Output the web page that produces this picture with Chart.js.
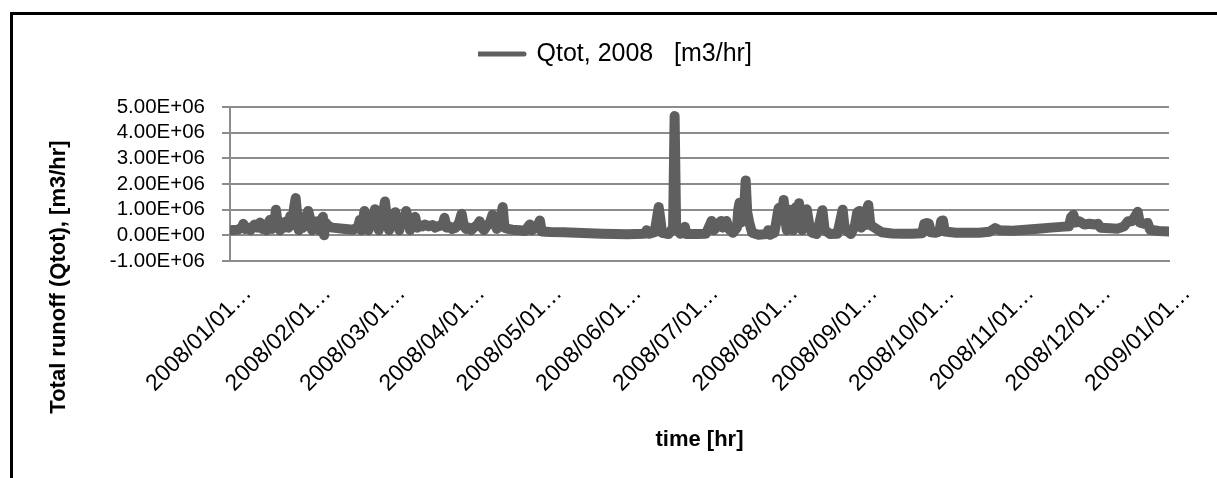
<!DOCTYPE html>
<html><head><meta charset="utf-8">
<script src="https://cdn.jsdelivr.net/npm/chart.js@4.4.1/dist/chart.umd.min.js"></script>
<style>
html,body{margin:0;padding:0;background:#fff;overflow:hidden;width:1217px;height:478px;}
#frame{position:absolute;left:10px;top:12px;width:1400px;height:700px;border:3px solid #000;box-sizing:border-box;}
#wrap{position:absolute;left:0;top:0;width:1217px;height:478px;}
</style></head><body>
<div id="frame"></div>
<div id="wrap"><canvas id="c" width="1217" height="478"></canvas></div>
<script>
// ---- data ----
const seriesName = 'Qtot, 2008   [m3/hr]';
const xTitleText = 'time [hr]';
const yTitleText = 'Total runoff (Qtot), [m3/hr]';

// x tick positions (day of year 2008) and their labels
const monthStartDays = [0, 31, 60, 91, 121, 152, 182, 213, 244, 274, 305, 335, 366];
const monthLabels = ['2008/01/01…', '2008/02/01…', '2008/03/01…', '2008/04/01…', '2008/05/01…', '2008/06/01…',
  '2008/07/01…', '2008/08/01…', '2008/09/01…', '2008/10/01…', '2008/11/01…', '2008/12/01…', '2009/01/01…'];

// y ticks
const yTickValues = [-1000000, 0, 1000000, 2000000, 3000000, 4000000, 5000000];
const yTickLabels = ['-1.00E+06', '0.00E+00', '1.00E+06', '2.00E+06', '3.00E+06', '4.00E+06', '5.00E+06'];

// series: time (day of year 2008) and total runoff [m3/hr]
const dayOfYear = [
  0, 3, 4.6, 5.2, 5.8, 7, 8, 9.5, 10.5, 11.7,
  12.6, 13.5, 14.2, 15, 15.6, 16.4, 17.4, 17.9, 18.5, 19.5,
  20.3, 21.2, 22, 22.8, 23.5, 24.3, 25, 25.6, 26.2, 26.8,
  27.5, 28.5, 29.5, 30.5, 31.3, 32, 32.6, 33.4, 34, 34.8,
  35.3, 36.2, 36.7, 37.2, 38.5, 40, 44, 48, 49.8, 50.6,
  51.2, 51.8, 52.4, 53.2, 54, 55, 55.8, 56.5, 57.3, 58,
  58.8, 59.6, 60.4, 61.2, 62, 62.8, 63.6, 64.4, 65.2, 66,
  66.8, 67.6, 68.7, 69.5, 70.2, 71, 71.6, 72.2, 73, 74,
  75, 76, 77.5, 79, 80, 81, 82.8, 83.6, 84.4, 85.5,
  86.5, 88, 89.3, 90.3, 91.2, 92, 93, 94, 95, 96.4,
  97.3, 98.2, 99, 100, 101.3, 102.3, 103.2, 104, 105.2, 106.3,
  107, 108.5, 110, 113, 115, 116.3, 116.9, 117.6, 119.5, 120.8,
  121.5, 125, 130, 135, 140, 145, 150, 155, 158, 161.5,
  162.4, 163.2, 165.5, 166.3, 167.1, 167.8, 168.4, 171, 172.7, 173.3,
  173.9, 175.5, 176.7, 177.3, 177.9, 182, 185.5, 186.8, 187.7, 188.6,
  189.5, 190.4, 191.4, 192, 192.6, 193.5, 194.4, 196, 197.6, 198.1,
  198.6, 199.2, 199.9, 200.5, 201, 201.6, 202.4, 203.5, 206, 209.2,
  209.8, 210.5, 212.2, 212.8, 213.8, 214.5, 215.2, 215.8, 216.5, 217,
  217.6, 218.3, 219, 219.5, 220, 220.6, 221.2, 221.8, 222.5, 223,
  223.8, 224.8, 225.8, 226.8, 228.6, 229.9, 230.9, 231.8, 234, 236.7,
  237.5, 238.8, 239.6, 242, 243.6, 244.5, 245.3, 246, 246.8, 247.5,
  248.2, 248.8, 249.6, 251.5, 254, 258, 262, 266, 269.8, 270.6,
  271.6, 272.4, 273.2, 275, 276.5, 277.2, 277.9, 278.6, 283, 288,
  292, 296, 298.2, 300, 305, 310, 315, 320, 324, 327,
  327.8, 328.7, 329.6, 331, 333, 335, 337, 338.3, 339.3, 343,
  346, 348.5, 350, 351.5, 353.2, 353.8, 354.6, 356.2, 357.7, 358.6,
  362, 366
];
const qtotM3hr = [
  200000, 220000, 300000, 450000, 250000, 300000, 200000, 420000, 300000, 500000,
  250000, 400000, 200000, 500000, 600000, 250000, 550000, 1000000, 500000, 200000,
  500000, 300000, 550000, 300000, 750000, 400000, 1100000, 1450000, 800000, 200000,
  600000, 300000, 700000, 950000, 600000, 200000, 550000, 300000, 550000, 200000,
  450000, 720000, 0, 500000, 350000, 300000, 260000, 220000, 300000, 600000,
  200000, 500000, 950000, 500000, 200000, 650000, 400000, 1020000, 500000, 200000,
  600000, 800000, 1320000, 600000, 200000, 600000, 500000, 900000, 500000, 200000,
  600000, 550000, 950000, 550000, 200000, 500000, 550000, 720000, 300000, 400000,
  350000, 420000, 350000, 400000, 300000, 350000, 400000, 680000, 300000, 350000,
  250000, 300000, 500000, 840000, 350000, 250000, 300000, 200000, 300000, 400000,
  550000, 300000, 200000, 350000, 500000, 800000, 450000, 250000, 550000, 1100000,
  300000, 250000, 220000, 200000, 170000, 350000, 420000, 200000, 300000, 580000,
  150000, 130000, 120000, 100000, 80000, 60000, 50000, 40000, 50000, 60000,
  200000, 60000, 120000, 600000, 1100000, 600000, 100000, 50000, 300000, 4650000,
  300000, 60000, 100000, 330000, 50000, 50000, 60000, 350000, 560000, 200000,
  300000, 450000, 560000, 300000, 500000, 560000, 250000, 100000, 300000, 1000000,
  1270000, 500000, 900000, 1200000, 2140000, 900000, 500000, 100000, 20000, 50000,
  200000, 20000, 100000, 450000, 1050000, 1100000, 600000, 1380000, 600000, 200000,
  800000, 1000000, 500000, 200000, 700000, 1100000, 700000, 1250000, 500000, 200000,
  700000, 1020000, 400000, 100000, 50000, 550000, 980000, 200000, 50000, 60000,
  400000, 1000000, 250000, 50000, 400000, 900000, 950000, 300000, 900000, 400000,
  1000000, 1180000, 400000, 280000, 120000, 70000, 60000, 60000, 80000, 450000,
  480000, 450000, 120000, 100000, 150000, 550000, 580000, 150000, 100000, 100000,
  100000, 140000, 280000, 200000, 180000, 220000, 260000, 300000, 330000, 350000,
  700000, 800000, 500000, 550000, 420000, 450000, 420000, 450000, 300000, 280000,
  260000, 350000, 550000, 550000, 800000, 920000, 500000, 450000, 480000, 220000,
  170000, 150000
];

// ---- chart ----
const FONT = "'Liberation Sans', Arial, sans-serif";
Chart.defaults.font.family = FONT;
Chart.defaults.color = '#000';
const GRID = '#8c8c8c';
const LINE = '#5f5f5f';

const yTitlePlugin = {
  id: 'yTitle',
  afterDraw(chart) {
    const ctx = chart.ctx;
    ctx.save();
    ctx.translate(59, 277);
    ctx.rotate(-Math.PI / 2);
    ctx.font = "bold 22px " + FONT;
    ctx.fillStyle = '#000';
    ctx.textAlign = 'center';
    ctx.textBaseline = 'middle';
    ctx.fillText(yTitleText, 0, 0);
    ctx.restore();
  }
};
const legendPlace = {
  id: 'legendPlace',
  afterLayout(chart) {
    const lg = chart.legend;
    if (!lg) return;
    lg.left = 478; lg.right = 900;
    lg.top = 54 - 12.5; lg.bottom = lg.top + 44;
  }
};

new Chart(document.getElementById('c'), {
  type: 'line',
  data: {
    datasets: [{
      label: seriesName,
      data: dayOfYear.map((d, i) => ({ x: d, y: qtotM3hr[i] })),
      borderColor: LINE,
      backgroundColor: LINE,
      borderWidth: 10,
      borderJoinStyle: 'round',
      borderCapStyle: 'round',
      pointRadius: 0,
      tension: 0,
      fill: false
    }]
  },
  options: {
    responsive: false,
    animation: false,
    devicePixelRatio: 1,
    layout: { padding: { top: 107, right: 48, bottom: 0, left: 0 } },
    plugins: {
      legend: {
        position: 'chartArea',
        align: 'start',
        labels: {
          usePointStyle: true,
          pointStyle: 'line',
          pointStyleWidth: 46,
          padding: 0,
          font: { size: 25 },
          color: '#000',
          generateLabels(chart) {
            const items = Chart.defaults.plugins.legend.labels.generateLabels(chart);
            items.forEach(it => { it.lineWidth = 5; it.lineCap = 'round'; it.strokeStyle = LINE; it.pointStyle = 'line'; });
            return items;
          }
        }
      },
      tooltip: { enabled: false }
    },
    scales: {
      x: {
        type: 'linear',
        min: 0, max: 366,
        afterBuildTicks(s) { s.ticks = monthStartDays.map(v => ({ value: v })); },
        afterFit(s) { s.height = 217; },
        grid: { display: false, drawTicks: false },
        border: { display: true, color: GRID, width: 2 },
        ticks: {
          autoSkip: false, minRotation: 45, maxRotation: 45,
          padding: 19, labelOffset: 18,
          font: { size: 23 }, color: '#000',
          callback: (v, i) => monthLabels[i]
        },
        title: { display: true, text: xTitleText, font: { size: 22, weight: 'bold' }, color: '#000', padding: { top: 0, bottom: 25 } }
      },
      y: {
        position: 'left',
        min: -1000000, max: 5000000,
        afterBuildTicks(s) { s.ticks = yTickValues.map(v => ({ value: v })); },
        afterFit(s) { s.width = 230; },
        grid: { color: GRID, lineWidth: 2, drawTicks: true, tickLength: 8, tickColor: GRID, tickWidth: 2 },
        border: { display: true, color: GRID, width: 2 },
        ticks: { autoSkip: false, padding: 17, font: { size: 20.5 }, color: '#000', callback: (v, i) => yTickLabels[i] }
      }
    }
  },
  plugins: [yTitlePlugin, legendPlace]
});
</script>
</body></html>
